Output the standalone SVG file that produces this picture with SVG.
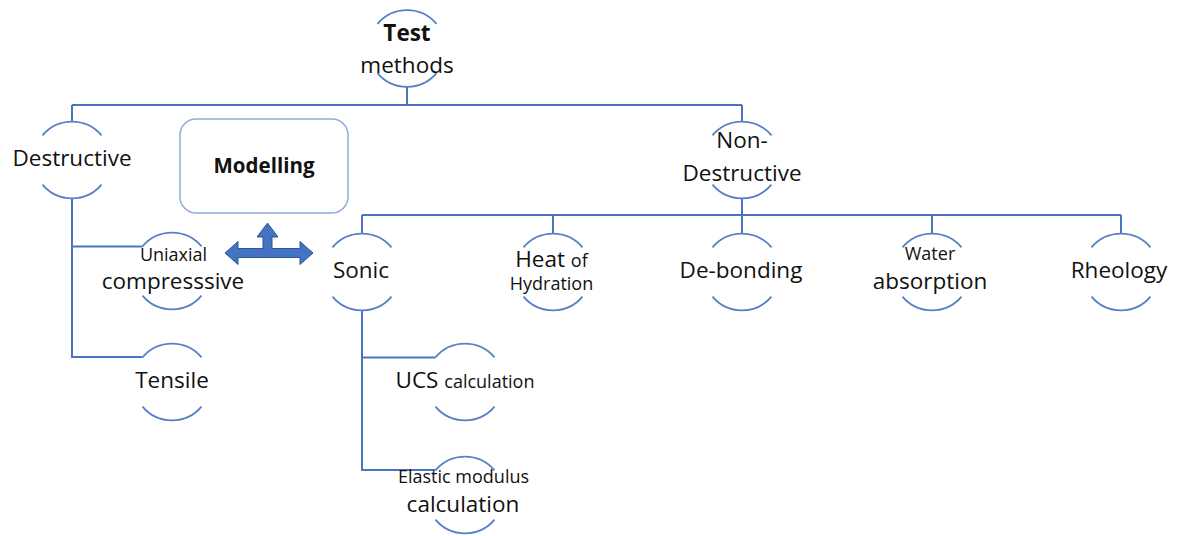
<svg xmlns="http://www.w3.org/2000/svg" width="1178" height="536" viewBox="0 0 1178 536">
<style>
.arc{fill:none;stroke:#5580c6;stroke-width:1.8}
.con{fill:none;stroke:#4a74c2;stroke-width:2}
text{font-family:"Open Sans","Noto Sans","Liberation Sans",sans-serif;fill:#111111;text-anchor:middle;font-size:22.5px}
.b{font-weight:bold}
.s{font-size:18px}
</style>
<defs>
<g id="circ">
<path d="M-29.5,-24.7 A38.5,38.5 0 0 1 29.5,-24.7"/>
<path d="M-29.5,24.7 A38.5,38.5 0 0 0 29.5,24.7"/>
</g>
</defs>
<rect width="1178" height="536" fill="#ffffff"/>
<g id="connectors" class="con">
<path d="M407,87 V105 M72,105 H742 M72,105 V121.5 M742,105 V121.5"/>
<path d="M72,198.5 V357 H142.5 M72,246.5 H142.5"/>
<path d="M742,198.5 V215 M362,215 H1121 M362,215 V233.5 M553,215 V233.5 M742,215 V233.5 M932,215 V233.5 M1121,215 V233.5"/>
<path d="M362,310.5 V470 H435.5 M362,357.5 H435.5"/>
</g>
<g id="arrow">
<polygon points="225,253 238,241.5 238,248.5 263,248.5 263,237 257,237 267.5,223 278,237 272,237 272,248.5 300,248.5 300,241.5 313,253 300,264.5 300,257.5 238,257.5 238,264.5" fill="#4472c4" stroke="#2f5597" stroke-width="1"/>
</g>
<g id="test-methods">
<use href="#circ" class="arc" x="407" y="48.5"/>
<text x="407" y="41" class="b">Test</text>
<text x="407" y="73">methods</text>
</g>
<g id="destructive">
<use href="#circ" class="arc" x="72" y="160"/>
<text x="72" y="166">Destructive</text>
</g>
<g id="modelling">
<rect x="180" y="119" width="168" height="94" rx="16" fill="#ffffff" stroke="#8eaadb" stroke-width="1.5"/>
<text x="264" y="173" class="b" style="font-size:20.5px">Modelling</text>
</g>
<g id="non-destructive">
<use href="#circ" class="arc" x="742" y="160"/>
<text x="742" y="148">Non-</text>
<text x="742" y="181">Destructive</text>
</g>
<g id="uniaxial">
<use href="#circ" class="arc" x="172" y="271"/>
<text x="173.5" y="261" class="s">Uniaxial</text>
<text x="173" y="289">compresssive</text>
</g>
<g id="tensile">
<use href="#circ" class="arc" x="172" y="382"/>
<text x="172" y="388">Tensile</text>
</g>
<g id="sonic">
<use href="#circ" class="arc" x="362" y="272"/>
<text x="361" y="278">Sonic</text>
</g>
<g id="heat">
<use href="#circ" class="arc" x="553" y="272"/>
<text x="551.5" y="267">Heat <tspan class="s">of</tspan></text>
<text x="551.5" y="290" class="s">Hydration</text>
</g>
<g id="debonding">
<use href="#circ" class="arc" x="742" y="272"/>
<text x="741" y="278">De-bonding</text>
</g>
<g id="water">
<use href="#circ" class="arc" x="932" y="272"/>
<text x="930" y="260" class="s">Water</text>
<text x="930" y="289">absorption</text>
</g>
<g id="rheology">
<use href="#circ" class="arc" x="1121" y="272"/>
<text x="1119" y="278">Rheology</text>
</g>
<g id="ucs">
<use href="#circ" class="arc" x="465" y="382"/>
<text x="465" y="388">UCS <tspan class="s">calculation</tspan></text>
</g>
<g id="elastic">
<use href="#circ" class="arc" x="465" y="495"/>
<text x="463.5" y="483" class="s">Elastic modulus</text>
<text x="463" y="512">calculation</text>
</g>
</svg>
